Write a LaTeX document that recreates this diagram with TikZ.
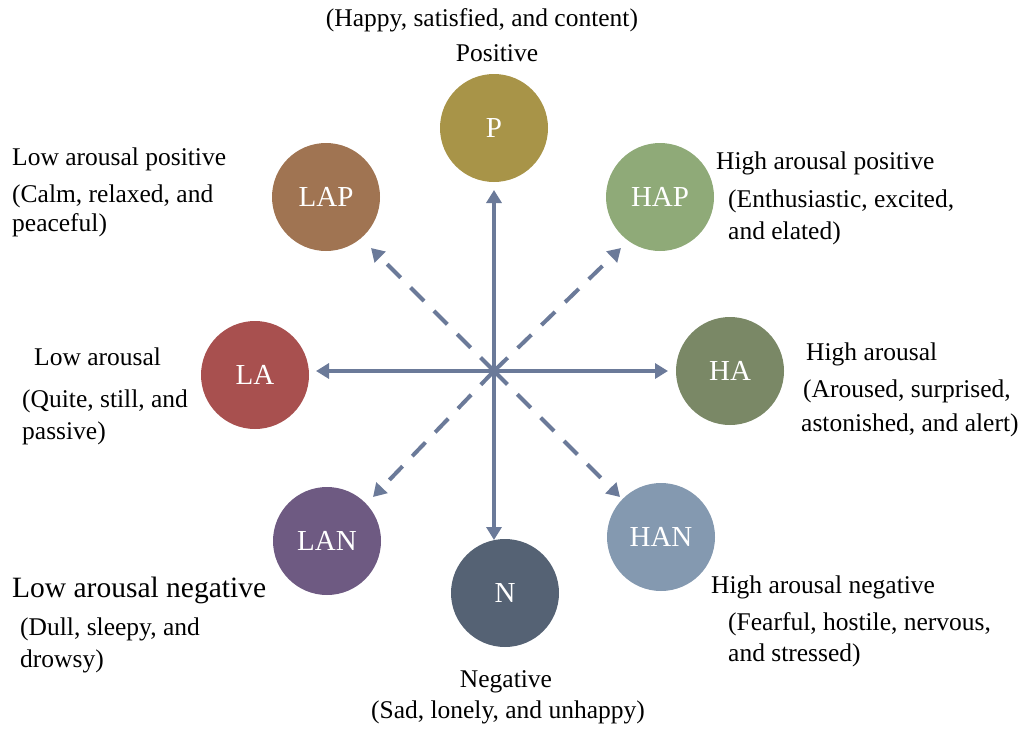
\documentclass[tikz,border=0pt]{standalone}
\usepackage{fontspec}
\setmainfont{LiberationSerif}[Extension=.ttf,UprightFont=*-Regular,BoldFont=*-Bold,ItalicFont=*-Italic,BoldItalicFont=*-BoldItalic]
\usetikzlibrary{arrows.meta}
\definecolor{arr}{HTML}{6B7A99}
\definecolor{cP}{HTML}{A89448}
\definecolor{cLAP}{HTML}{A07452}
\definecolor{cHAP}{HTML}{8FAA78}
\definecolor{cLA}{HTML}{A8504F}
\definecolor{cHA}{HTML}{7A8866}
\definecolor{cLAN}{HTML}{6E5A82}
\definecolor{cN}{HTML}{556274}
\definecolor{cHAN}{HTML}{8499B0}
\begin{document}
\begin{tikzpicture}[x=1pt,y=-1pt,
  emo/.style={circle,minimum size=108pt,inner sep=0pt,text=white,font=\fontsize{29}{32}\selectfont},
  lbl/.style={anchor=base west,inner sep=0pt,font=\fontsize{25.5}{30}\selectfont},
  lblc/.style={anchor=base,inner sep=0pt,font=\fontsize{25.5}{30}\selectfont},
  axis/.style={draw=arr,line width=4pt,-{Triangle[length=13pt,width=15pt]}},
  diag/.style={axis,dash pattern=on 19pt off 14pt}]
\useasboundingbox (0,0) rectangle (1032,728);
% circles
\node[emo,fill=cP] (P) at (494,128) {P};
\node[emo,fill=cLAP] (LAP) at (326,197) {LAP};
\node[emo,fill=cHAP] (HAP) at (660,197) {HAP};
\node[emo,fill=cLA] (LA) at (255,375) {LA};
\node[emo,fill=cHA] (HA) at (730,371) {HA};
\node[emo,fill=cLAN] (LAN) at (327,541) {LAN};
\node[emo,fill=cN] (N) at (505,593) {N};
\node[emo,fill=cHAN] (HAN) at (661,537) {HAN};
% arrows
\coordinate (c) at (494,371);
\coordinate (tP) at (494,190);
\coordinate (tN) at (494,540);
\coordinate (tLA) at (316,371);
\coordinate (tHA) at (668,371);
\coordinate (tLAP) at (371,248);
\coordinate (tHAP) at (621,248);
\coordinate (tLAN) at (373,497);
\coordinate (tHAN) at (620,497);
\draw[diag] (c) -- (tLAP);
\draw[diag] (c) -- (tHAP);
\draw[diag] (c) -- (tLAN);
\draw[diag] (c) -- (tHAN);
\draw[axis] (c) -- (tP);
\draw[axis] (c) -- (tN);
\draw[axis] (c) -- (tLA);
\draw[axis] (c) -- (tHA);
% labels
\node[lblc] (t1) at (482,27) {(Happy, satisfied, and content)};
\node[lblc] (t2) at (497,61) {Positive};
\node[lbl] (t3) at (12,165) {Low arousal positive};
\node[lbl] (t4) at (12,202) {(Calm, relaxed, and};
\node[lbl] (t5) at (12,231) {peaceful)};
\node[lbl] (t6) at (716,169) {High arousal positive};
\node[lbl] (t7) at (728,207) {(Enthusiastic, excited,};
\node[lbl] (t8) at (728,239) {and elated)};
\node[lbl] (t9) at (34,365) {Low arousal};
\node[lbl] (t10) at (22,407) {(Quite, still, and};
\node[lbl] (t11) at (22,439) {passive)};
\node[lbl] (t12) at (806,360) {High arousal};
\node[lbl] (t13) at (803,397) {(Aroused, surprised,};
\node[lbl] (t14) at (801,431) {astonished, and alert)};
\node[lbl,font=\fontsize{29.5}{34}\selectfont] (t15) at (12,597) {Low arousal negative};
\node[lbl] (t16) at (20,635) {(Dull, sleepy, and};
\node[lbl] (t17) at (20,667) {drowsy)};
\node[lbl] (t18) at (711,593) {High arousal negative};
\node[lbl] (t19) at (728,630) {(Fearful, hostile, nervous,};
\node[lbl] (t20) at (728,661) {and stressed)};
\node[lblc] (t21) at (506,687) {Negative};
\node[lblc] (t22) at (508,718) {(Sad, lonely, and unhappy)};
\end{tikzpicture}
\end{document}
